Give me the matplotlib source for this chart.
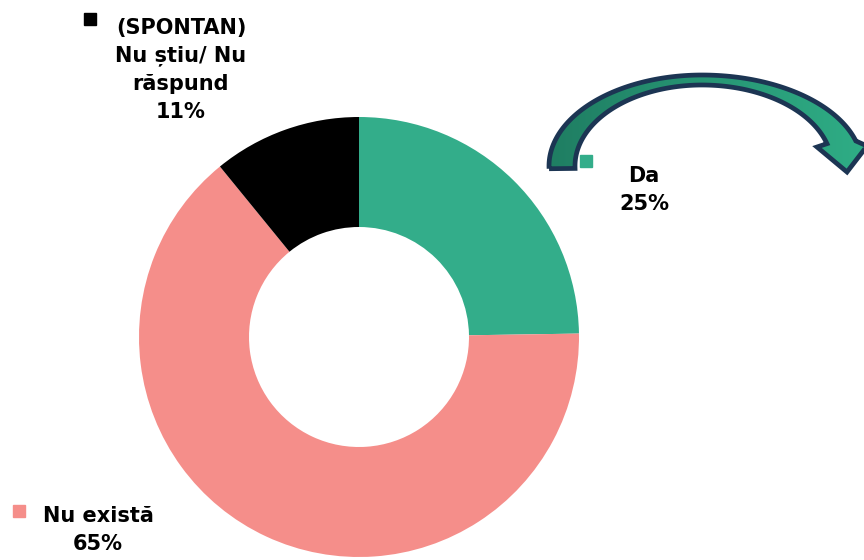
import matplotlib
matplotlib.use("Agg")
import matplotlib.pyplot as plt
import numpy as np
from matplotlib.patches import Polygon
from matplotlib.colors import LinearSegmentedColormap

labels = ["Da", "Nu există", "(SPONTAN)\nNu știu/ Nu\nrăspund"]
values = [25, 65, 11]
colors = ["#33ad8a", "#f58e8a", "#000000"]

W, H = 864, 560
fig = plt.figure(figsize=(W / 100, H / 100), dpi=100)
ax = fig.add_axes([0, 0, 1, 1])

cx, cy = 359, H - 337
ax.pie(values, colors=colors, startangle=90, counterclock=False,
       radius=220, center=(cx, cy),
       wedgeprops=dict(width=110, edgecolor="none"))
ax.set_xlim(0, W)
ax.set_ylim(0, H)
ax.axis("off")

# text block centres and legend squares, in screen pixels (y down)
label_pos = [(644, 190), (98, 530), (181, 70)]
marker_pos = [(586, 161), (19, 511), (90, 19)]
for lab, v, col, (x, y), (mx, my) in zip(labels, values, colors, label_pos, marker_pos):
    ax.text(x, H - y, f"{lab}\n{v}%", ha="center", va="center",
            fontsize=15, fontweight="bold", linespacing=1.5, color="black")
    ax.plot(mx, H - my, marker="s", ms=8.5, color=col, mec=col)

# curved arrow top right
t = np.linspace(np.pi + 0.03, np.deg2rad(16), 120)
ecx, ecy = 702, 166
a_out = np.where(np.cos(t) < 0, 153, 160)
a_in = np.where(np.cos(t) < 0, 127, 130)
outer = np.column_stack([ecx + a_out * np.cos(t), H - (ecy - 91 * np.sin(t))])
inner = np.column_stack([ecx + a_in * np.cos(t), H - (ecy - 81 * np.sin(t))])[::-1]
head = np.array([[867, H - 146], [847, H - 172], [817, H - 147]])
pts = np.vstack([outer, head, inner])

shape = Polygon(pts, closed=True, facecolor="none", edgecolor="none")
ax.add_patch(shape)
cmap = LinearSegmentedColormap.from_list("arr", ["#1f7d62", "#2fae86"])
grad = ax.imshow(np.linspace(0, 1, 256).reshape(1, -1), cmap=cmap, aspect="auto",
                 extent=(545, 870, H - 180, H - 70), zorder=3)
grad.set_clip_path(shape)
ax.add_patch(Polygon(pts, closed=True, fill=False, edgecolor="#1c3553",
                     lw=3.4, joinstyle="miter", zorder=4))
ax.set_xlim(0, W)
ax.set_ylim(0, H)

fig.savefig("out.png", dpi=100)
